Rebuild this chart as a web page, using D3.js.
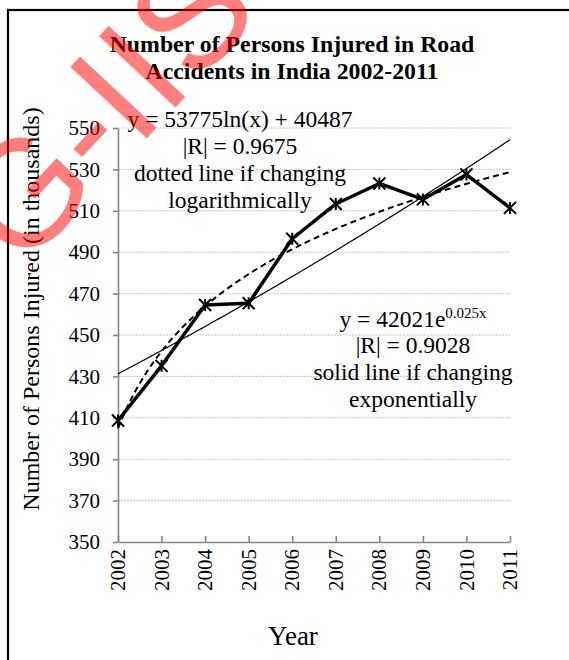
<!DOCTYPE html>
<html>
<head>
<meta charset="utf-8">
<script src="https://cdn.jsdelivr.net/npm/d3@7"></script>
<style>
  body { margin: 0; background: #fff; }
  svg { display: block; }
  text { font-family: "Liberation Serif", "Times New Roman", serif; fill: #000; }
</style>
</head>
<body>
<svg id="chart" width="569" height="660"></svg>
<script>
// Persons injured in road accidents in India (thousands)
const years = [2002, 2003, 2004, 2005, 2006, 2007, 2008, 2009, 2010, 2011];
const injured = [408.7, 435.1, 464.5, 465.3, 496.5, 513.3, 523.2, 515.5, 527.5, 511.4];
const yTicks = [350, 370, 390, 410, 430, 450, 470, 490, 510, 530, 550];

// Printed trend equations (x = 1 for 2002)
const logCoef = [53775, 40487];   // y = a ln(x) + b
const expCoef = [42021, 0.025];   // y = a e^(b x)
const rValues = [0.9675, 0.9028];

const titleLines = ["Number of Persons Injured in Road", "Accidents in India 2002-2011"];
const logNote = [`y = ${logCoef[0]}ln(x) + ${logCoef[1]}`, `|R| = ${rValues[0]}`, "dotted line if changing", "logarithmically"];
const expNote = [`|R| = ${rValues[1]}`, "solid line if changing", "exponentially"];

// least-squares line through (u, v) pairs
function linFit(u, v) {
  const mu = d3.mean(u), mv = d3.mean(v);
  const sxy = d3.sum(u, (d, i) => (d - mu) * (v[i] - mv));
  const sxx = d3.sum(u, d => (d - mu) * (d - mu));
  const slope = sxy / sxx;
  return { slope, intercept: mv - slope * mu };
}
const idx = years.map((d, i) => i + 1);
const logFit = linFit(idx.map(Math.log), injured);               // y = s ln x + c
const expFitLn = linFit(idx, injured.map(Math.log));             // ln y = s x + c
const logTrend = t => logFit.slope * Math.log(t) + logFit.intercept;
const expTrend = t => Math.exp(expFitLn.intercept) * Math.exp(expFitLn.slope * t);

const svg = d3.select("#chart");
const plotL = 118, plotR = 510, plotT = 128, plotB = 542;

const x = d3.scalePoint().domain(years).range([plotL, plotR]);
const xi = d3.scaleLinear().domain([1, years.length]).range([plotL, plotR]);
const y = d3.scaleLinear().domain([350, 550]).range([plotB, plotT]);

// outer frame
svg.append("rect").attr("x", 8).attr("y", 10).attr("width", 640).attr("height", 700)
  .attr("fill", "none").attr("stroke", "#000").attr("stroke-width", 2.2);

// gridlines
svg.append("g").selectAll("line").data(yTicks.slice(1)).join("line")
  .attr("x1", plotL).attr("x2", plotR)
  .attr("y1", d => y(d)).attr("y2", d => y(d))
  .attr("stroke", "#c9c9c9").attr("stroke-width", 1).attr("stroke-dasharray", "2,1");

// y axis
const yAxis = svg.append("g").attr("transform", `translate(${plotL},0)`)
  .call(d3.axisLeft(y).tickValues(yTicks).tickSize(5).tickSizeOuter(0).tickPadding(13));
yAxis.selectAll("path, line").attr("stroke", "#868686").attr("stroke-width", 1.6);
yAxis.selectAll("text").style("font-family", "Liberation Serif").style("font-size", "21px").style("fill", "#000");

// x axis with inward ticks
const xAxis = svg.append("g").attr("transform", `translate(0,${plotB})`)
  .call(d3.axisBottom(x).tickSize(-6).tickSizeOuter(0).tickFormat(""));
xAxis.selectAll("path, line").attr("stroke", "#868686").attr("stroke-width", 1.6);
svg.append("g").selectAll("text").data(years).join("text")
  .attr("transform", d => `translate(${x(d)},${plotB + 7}) rotate(-90)`)
  .attr("text-anchor", "end").attr("dy", "0.34em")
  .style("font-size", "21px").text(d => d);

// exponential trend (thin solid)
const tSamples = d3.range(1, years.length + 0.001, 0.05);
svg.append("path")
  .attr("d", d3.line().x(t => xi(t)).y(t => y(expTrend(t)))(tSamples))
  .attr("fill", "none").attr("stroke", "#000").attr("stroke-width", 1.2);

// logarithmic trend (dashed)
svg.append("path")
  .attr("d", d3.line().x(t => xi(t)).y(t => y(logTrend(t)))(tSamples))
  .attr("fill", "none").attr("stroke", "#000").attr("stroke-width", 2).attr("stroke-dasharray", "6,4");

// data series
svg.append("path")
  .attr("d", d3.line().x((d, i) => x(years[i])).y(d => y(d))(injured))
  .attr("fill", "none").attr("stroke", "#000").attr("stroke-width", 3.5).attr("stroke-linejoin", "round");

// star markers
const m = 6;
svg.append("g").selectAll("path").data(injured).join("path")
  .attr("transform", (d, i) => `translate(${x(years[i])},${y(d)})`)
  .attr("d", `M${-m},${-m}L${m},${m}M${-m},${m}L${m},${-m}M0,${-m}L0,${m}`)
  .attr("stroke", "#000").attr("stroke-width", 2).attr("fill", "none");

// title
svg.append("g").selectAll("text").data(titleLines).join("text")
  .attr("x", 292).attr("y", (d, i) => 52 + i * 26.5)
  .attr("text-anchor", "middle").style("font-size", "23.8px").style("font-weight", "bold")
  .text(d => d);

// logarithmic note
svg.append("g").selectAll("text").data(logNote).join("text")
  .attr("x", 240).attr("y", (d, i) => 127 + i * 27)
  .attr("text-anchor", "middle").style("font-size", "23.5px")
  .text(d => d);

// exponential note
const expEq = svg.append("text").attr("x", 413).attr("y", 327)
  .attr("text-anchor", "middle").style("font-size", "23.5px");
expEq.append("tspan").text(`y = ${expCoef[0]}e`);
expEq.append("tspan").attr("dy", -9).style("font-size", "15px").text(`${expCoef[1]}x`);
svg.append("g").selectAll("text").data(expNote).join("text")
  .attr("x", 413).attr("y", (d, i) => 353 + i * 27)
  .attr("text-anchor", "middle").style("font-size", "23.5px")
  .text(d => d);

// axis titles
svg.append("text").attr("transform", "translate(39,309) rotate(-90)")
  .attr("text-anchor", "middle").style("font-size", "24px")
  .text("Number of Persons Injured (in thousands)");
svg.append("text").attr("x", 293).attr("y", 645)
  .attr("text-anchor", "middle").style("font-size", "27px")
  .text("Year");

// watermark
svg.append("text").attr("transform", "translate(22,272) rotate(-47)")
  .style("font-family", "Liberation Sans, Arial, sans-serif").style("font-size", "152px")
  .style("fill", "rgba(255,0,0,0.5)")
  .text("G-IISO");
</script>
</body>
</html>
